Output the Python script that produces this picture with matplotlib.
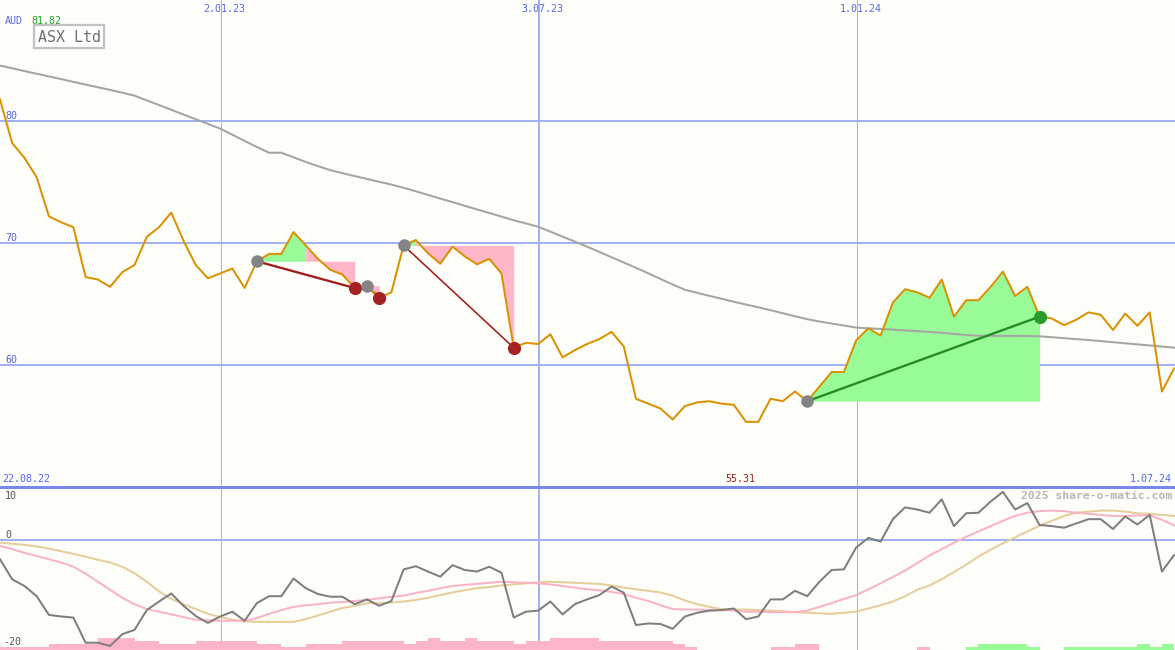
import matplotlib
matplotlib.use('Agg')
import matplotlib.pyplot as plt
from matplotlib.patches import Rectangle
import numpy as np

# ---------------- data ----------------
price = [81.8, 78.2, 77.0, 75.4, 72.2, 71.7, 71.3, 67.2, 67.0, 66.4,
         67.6, 68.2, 70.5, 71.3, 72.5, 70.2, 68.2, 67.1, 67.5, 67.9,
         66.3, 68.5, 69.1, 69.1, 70.9, 69.8, 68.7, 67.8, 67.4, 66.3,
         66.5, 65.5, 65.95, 69.8, 70.25, 69.15, 68.3, 69.7, 68.9, 68.25,
         68.7, 67.5, 61.4, 61.8, 61.7, 62.5, 60.6, 61.2, 61.7, 62.1,
         62.7, 61.5, 57.2, 56.8, 56.4, 55.5, 56.6, 56.9, 57.0, 56.8,
         56.7, 55.3, 55.3, 57.2, 57.0, 57.8, 57.0, 58.2, 59.4, 59.4,
         62.0, 63.0, 62.4, 65.1, 66.2, 65.95, 65.5, 67.0, 63.95, 65.3,
         65.3, 66.4, 67.65, 65.65, 66.4, 63.95, 63.8, 63.25, 63.7, 64.3,
         64.1, 62.85, 64.2, 63.2, 64.3, 57.8, 59.7]

ma_long = [84.58, 84.36, 84.13, 83.91, 83.69, 83.47, 83.24, 83.02, 82.80, 82.58,
           82.35, 82.11, 81.72, 81.34, 80.95, 80.56, 80.17, 79.79, 79.40, 78.90,
           78.39, 77.89, 77.42, 77.42, 77.04, 76.66, 76.32, 75.99, 75.74, 75.50,
           75.27, 75.03, 74.80, 74.54, 74.25, 73.95, 73.65, 73.36, 73.06, 72.76,
           72.47, 72.17, 71.87, 71.61, 71.34, 70.93, 70.52, 70.12, 69.70, 69.27,
           68.83, 68.40, 67.96, 67.51, 67.05, 66.59, 66.16, 65.91, 65.66, 65.42,
           65.17, 64.94, 64.72, 64.48, 64.23, 63.98, 63.74, 63.55, 63.38, 63.22,
           63.05, 62.99, 62.94, 62.88, 62.82, 62.76, 62.69, 62.62, 62.53, 62.44,
           62.38, 62.37, 62.37, 62.37, 62.36, 62.33, 62.26, 62.18, 62.10, 62.03,
           61.94, 61.85, 61.76, 61.67, 61.58, 61.49, 61.40]

osc = [-3.6, -7.35, -8.6, -10.5, -14.0, -14.3, -14.5, -19.2, -19.2, -19.8,
       -17.6, -16.8, -13.1, -11.5, -10.0, -12.3, -14.2, -15.5, -14.3, -13.4,
       -15.1, -11.8, -10.5, -10.5, -7.2, -9.0, -10.1, -10.6, -10.6, -12.0,
       -11.1, -12.3, -11.4, -5.5, -4.9, -5.9, -6.85, -4.7, -5.6, -5.9,
       -5.0, -6.1, -14.5, -13.4, -13.2, -11.5, -13.9, -12.0, -11.1, -10.3,
       -8.7, -9.85, -15.9, -15.6, -15.7, -16.6, -14.3, -13.6, -13.2, -13.1,
       -12.8, -14.8, -14.3, -11.1, -11.1, -9.5, -10.5, -7.8, -5.6, -5.5,
       -1.4, 0.4, -0.3, 3.9, 6.1, 5.7, 5.1, 7.6, 2.6, 5.0,
       5.1, 7.2, 9.0, 5.7, 6.9, 2.8, 2.6, 2.3, 3.1, 3.9,
       3.9, 2.06, 4.4, 2.9, 4.7, -5.9, -2.8]

osc_fast = [-1.1, -1.7, -2.4, -3.0, -3.6, -4.2, -5.0, -6.3, -7.8, -9.3,
            -10.8, -12.0, -12.9, -13.4, -13.9, -14.4, -14.9, -15.0, -15.1, -15.1,
            -15.1, -14.6, -13.8, -13.1, -12.5, -12.2, -12.0, -11.7, -11.6, -11.4,
            -11.2, -10.9, -10.6, -10.4, -9.9, -9.5, -9.0, -8.6, -8.4, -8.2,
            -8.0, -7.8, -7.9, -8.0, -8.1, -8.3, -8.6, -8.9, -9.2, -9.4,
            -9.7, -10.1, -10.8, -11.4, -12.2, -12.9, -13.0, -13.0, -13.1, -13.1,
            -13.2, -13.4, -13.4, -13.5, -13.5, -13.5, -13.2, -12.5, -11.8, -11.0,
            -10.3, -9.2, -8.1, -6.9, -5.7, -4.3, -2.9, -1.7, -0.5, 0.6,
            1.6, 2.6, 3.6, 4.5, 5.1, 5.4, 5.5, 5.4, 5.1, 4.9,
            4.7, 4.5, 4.5, 4.6, 4.6, 3.8, 2.7]

osc_slow = [-0.5, -0.7, -0.9, -1.2, -1.6, -2.1, -2.6, -3.1, -3.7, -4.2,
            -5.0, -6.2, -7.8, -9.6, -11.0, -12.0, -12.9, -13.8, -14.4, -14.9,
            -15.2, -15.3, -15.3, -15.3, -15.3, -14.8, -14.1, -13.4, -12.7, -12.3,
            -11.8, -11.8, -11.7, -11.5, -11.2, -10.8, -10.3, -9.8, -9.4, -9.0,
            -8.8, -8.5, -8.3, -8.1, -7.9, -7.8, -7.9, -8.0, -8.1, -8.2,
            -8.5, -8.9, -9.2, -9.5, -9.8, -10.4, -11.3, -12.0, -12.5, -12.9,
            -13.0, -13.0, -13.1, -13.2, -13.3, -13.5, -13.6, -13.7, -13.8, -13.6,
            -13.4, -12.8, -12.2, -11.5, -10.5, -9.3, -8.5, -7.3, -6.0, -4.6,
            -3.1, -1.8, -0.6, 0.5, 1.6, 2.7, 3.6, 4.5, 5.1, 5.3,
            5.5, 5.5, 5.3, 5.0, 4.9, 4.7, 4.5]

# signed histogram levels (negative = pink, positive = green)
hist = [-1, -1, -1, -1, -2, -2, -2, -2, -4, -4,
        -4, -3, -3, -2, -2, -2, -3, -3, -3, -3,
        -3, -2, -2, -1, -1, -2, -2, -2, -3, -3,
        -3, -3, -3, -2, -3, -4, -3, -3, -4, -3,
        -3, -3, -2, -3, -3, -4, -4, -4, -4, -3,
        -3, -3, -3, -3, -3, -2, -1, 0, 0, 0,
        0, 0, 0, -1, -1, -2, -2, 0, 0, 0,
        0, 0, 0, 0, 0, -1, 0, 0, 0, 1,
        2, 2, 2, 2, 1, 0, 0, 1, 1, 1,
        1, 1, 1, 2, 1, 2, 0]

# trades: entry index, split index (green -> pink), exit index, won?
trade_entry = [21, 30, 33, 66]
trade_split = [25, 30, 34, 85]
trade_exit = [29, 31, 42, 85]
trade_win = [False, False, False, True]

date_labels = ['2.01.23', '3.07.23', '1.01.24']
date_pos = [18.07, 44.07, 70.07]
start_label = '22.08.22'
end_label = '1.07.24'
first_price = 81.82
min_price = 55.31
price_ticks = [80, 70, 60]
osc_ticks = [10, 0, -20]

# ---------------- figure ----------------
W, H = 1175, 650
fig = plt.figure(figsize=(W / 100, H / 100), dpi=100)
bg = '#FDFEF9'
fig.patch.set_facecolor(bg)

split_px = 487
ax = fig.add_axes([0, (H - split_px) / H, 1, split_px / H])
axb = fig.add_axes([0, 0, 1, (H - split_px) / H])
n = len(price)
x = np.arange(n)
XMAX = 96.07
for a in (ax, axb):
    a.set_axis_off()
    a.set_xlim(0, XMAX)
ax.set_ylim(49.95, 89.97)
axb.set_ylim(-20.56, 9.91)

grid_c = '#A3B1F2'
px = 0.72  # one pixel in points

# price gridlines
for t in price_ticks:
    ax.axhline(t, color=grid_c, lw=2 * px, zorder=1)
# date verticals
for i, p in enumerate(date_pos):
    lw = 2 * px if i == 1 else 1 * px
    for a in (ax, axb):
        a.axvline(p, color=grid_c, lw=lw, zorder=1)

# trade fills
green_fill = '#98FB98'
pink_fill = '#FFB6C8'
for e, s, xe, w in zip(trade_entry, trade_split, trade_exit, trade_win):
    lvl = price[e]
    if s > e:
        ax.fill_between(x[e:s + 1], price[e:s + 1], lvl, color=green_fill, lw=0, zorder=2)
    if xe > s:
        ax.fill_between(x[s:xe + 1], price[s:xe + 1], lvl, color=pink_fill, lw=0, zorder=2)

# long moving average
ax.plot(x, ma_long, color='#A4A4A4', lw=2 * px, zorder=3)

# trade lines
for k, (e, xe, w) in enumerate(zip(trade_entry, trade_exit, trade_win)):
    c = '#228B22' if w else '#A01E1E'
    lw = 1.6 * px if k == 2 else 2.3 * px
    ax.plot([e, xe], [price[e], price[xe]], color=c, lw=lw, zorder=4,
            solid_capstyle='butt')

# price line
ax.plot(x, price, color='#DA9100', lw=2 * px, zorder=5)

# markers
for e, xe, w in zip(trade_entry, trade_exit, trade_win):
    ax.plot(e, price[e], 'o', color='#838383', ms=9, mew=0, zorder=6)
    ax.plot(xe, price[xe], 'o', color='#2A9A2A' if w else '#A52222', ms=9.5, mew=0, zorder=6)

# ---------------- lower panel ----------------
axb.axhline(0, color=grid_c, lw=2 * px, zorder=1)
axb.axhline(9.91, color='#7888EA', lw=3 * px, zorder=7, clip_on=False)

bar_unit = 3 / 5.35
base = -20.56
for i, h in enumerate(hist):
    if h == 0:
        continue
    col = '#98FB98' if h > 0 else '#FBB4C8'
    axb.bar(i, abs(h) * bar_unit, bottom=base, width=1.0, align='edge',
            color=col, lw=0, zorder=2)

axb.plot(x, osc_slow, color='#E6CD9A', lw=2 * px, zorder=3)
axb.plot(x, osc_fast, color='#FAB2C6', lw=2 * px, zorder=4)
axb.plot(x, osc, color='#7E7E7E', lw=2 * px, zorder=5)

# ---------------- texts ----------------
mono = 'DejaVu Sans Mono'
blue = '#5566EE'


def ftext(xp, yp, s, **kw):
    fig.text(xp / W, 1 - yp / H, s, family=mono, **kw)


ftext(5, 20.5, 'AUD', color=blue, fontsize=7.2, ha='left', va='center')
ftext(31.5, 20.5, '%.2f' % first_price, color='#22A022', fontsize=7.2, ha='left', va='center')
fig.add_artist(Rectangle((33.5 / W, 1 - 47.5 / H), 70 / W, 22 / H,
                         transform=fig.transFigure, facecolor='#FEFEFE',
                         edgecolor='#C2C2C2', lw=2.2 * px, zorder=10))
ftext(69, 37, 'ASX Ltd', color='#6E6E6E', fontsize=10.8, ha='center', va='center', zorder=11)

for lab, p in zip(date_labels, date_pos):
    ftext(p * W / XMAX + 3.5, 9, lab, color=blue, fontsize=7.2, ha='center', va='center')

for t in price_ticks:
    yp = 121.3 + (80 - t) * 12.17 - 5
    ftext(5, yp, str(t), color=blue, fontsize=7.2, ha='left', va='center')

for t, yp in zip(osc_ticks, [496, 535, 642]):
    ftext(5 if t >= 0 else 3, yp, str(t), color='#555555', fontsize=7.2, ha='left', va='center')

ftext(2, 478.5, start_label, color=blue, fontsize=7.2, ha='left', va='center')
ftext(1172, 478.5, end_label, color=blue, fontsize=7.2, ha='right', va='center')
ftext(740.5, 478.5, '%.2f' % min_price, color='#A01E1E', fontsize=7.2,
      ha='center', va='center')
ftext(1172, 496, '2025 share-o-matic.com', color='#B8B8B8', fontsize=8.2,
      ha='right', va='center', weight='bold')

fig.savefig('out.png', dpi=100, facecolor=bg)
